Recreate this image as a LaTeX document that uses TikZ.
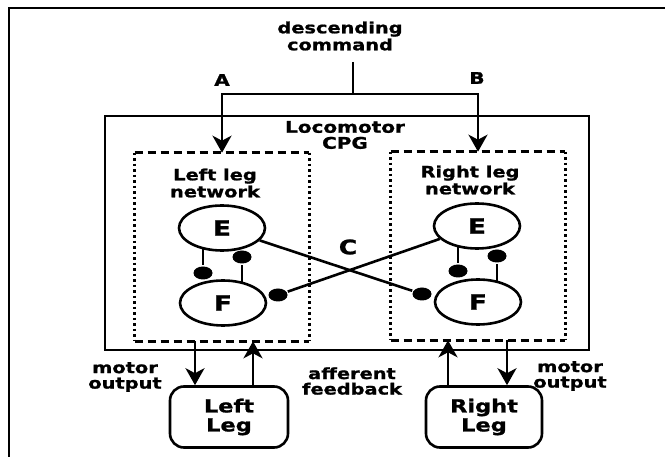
\documentclass[tikz,border=0pt]{standalone}
\usepackage{fontspec}
\setmainfont{DejaVu Sans}[FakeStretch=1.25, BoldFeatures={FakeBold=1.2}]
\usetikzlibrary{positioning, arrows.meta, calc, shapes.geometric, backgrounds}

\begin{document}
\begin{tikzpicture}[x=1pt, y=-1pt, >={Stealth[length=17pt,width=19pt,inset=5pt]}, line width=2.6pt,
  lbl/.style={font=\bfseries\fontsize{15.5}{17}\selectfont, align=center, inner sep=0pt},
  cell/.style={ellipse, draw, fill=white, minimum width=86pt, minimum height=45pt, inner sep=0pt, font=\bfseries\fontsize{21}{21}\selectfont},
  inhdot/.style={ellipse, fill, minimum width=19pt, minimum height=13pt, inner sep=0pt},
  netbox/.style={minimum width=172pt, minimum height=186pt, inner sep=0pt},
  legbox/.style={draw, rounded corners=14pt, minimum height=61pt, inner sep=0pt, align=center, font=\bfseries\fontsize{18}{19}\selectfont},
  dashside/.style={dash pattern=on 8pt off 5pt},
  dotside/.style={dash pattern=on 2.5pt off 3pt}]
\useasboundingbox (0,0) rectangle (665,457);
% page frame (only top and left edges show)
\draw[line width=1.6pt] (9,457) -- (9,8) -- (665,8);
% descending command
\node[lbl] (cmd) at (340,36) {descending\\command};
\coordinate (cmdfoot) at (353,62);
\coordinate (split) at (353,94);
% CPG box
\node[draw, minimum width=484pt, minimum height=234pt] (cpg) at (347,233) {};
\node[lbl, font=\bfseries\fontsize{16}{16}\selectfont] (cpgname) at (345,135) {Locomotor\\CPG};
% leg networks
\node[netbox] (lnet) at (222,247) {};
\node[netbox] (rnet) at (478,246) {};
\foreach \n in {lnet,rnet}{
  \draw[dashside] (\n.north west) -- (\n.north east) (\n.south west) -- (\n.south east);
  \draw[dotside] (\n.north west) -- (\n.south west) (\n.north east) -- (\n.south east);
}
\node[lbl] (lname) at (215,183) {Left leg\\network};
\node[lbl] (rname) at (470,180) {Right leg\\network};
% half-centre cells
\node[cell] (El) at (222,228) {E};
\node[cell] (Fl) at (223,303) {F};
\node[cell] (Er) at (477,226) {E};
\node[cell] (Fr) at (478,302) {F};
% inhibitory synapses
\node[inhdot] (ilEF) at (203,273) {};
\node[inhdot] (ilFE) at (242,257) {};
\node[inhdot] (irEF) at (458,271) {};
\node[inhdot] (irFE) at (497,256) {};
\node[inhdot] (ilx) at (278,295) {};
\node[inhdot] (irx) at (422,294) {};
% crossed connections
\draw (El) -- (irx);
\draw (Er) -- (ilx);
\node[lbl, font=\bfseries\fontsize{20}{20}\selectfont] (C) at (348,247) {C};
% command pathways A and B
\draw (cmdfoot) -- (split);
\draw[->] (split) -| (lnet.north);
\draw[->] (split) -| (rnet.north);
\node[lbl, font=\bfseries\fontsize{16}{16}\selectfont] (A) at (222,80) {A};
\node[lbl, font=\bfseries\fontsize{16}{16}\selectfont] (B) at (477,78) {B};
% legs
\node[legbox, minimum width=118pt] (lleg) at (229,417) {Left\\Leg};
\node[legbox, minimum width=116pt] (rleg) at (484,417) {Right\\Leg};
\coordinate (lmo) at ([xshift=-34pt]lleg.north);
\coordinate (laf) at ([xshift=24pt]lleg.north);
\coordinate (raf) at ([xshift=-36pt]rleg.north);
\coordinate (rmo) at ([xshift=23pt]rleg.north);
\draw[->] (lmo |- lnet.south) -- (lmo);
\draw[->] (laf) -- (laf |- lnet.south);
\draw[->] (raf) -- (raf |- rnet.south);
\draw[->] (rmo |- rnet.south) -- (rmo);
\node[lbl, font=\bfseries\fontsize{15.5}{15.5}\selectfont] (lmotor) at (125,377) {motor\\output};
\node[lbl, font=\bfseries\fontsize{15.5}{15.5}\selectfont] (rmotor) at (570,376) {motor\\output};
\node[lbl, font=\bfseries\fontsize{15.5}{15.5}\selectfont] (aff) at (352,381) {afferent\\feedback};
% stems of the inhibitory synapses, behind the cells
\begin{pgfonlayer}{background}
\draw[line width=2.6pt] (El.center -| ilEF) -- (ilEF);
\draw[line width=2.6pt] (Fl.center -| ilFE) -- (ilFE);
\draw[line width=2.6pt] (Er.center -| irEF) -- (irEF);
\draw[line width=2.6pt] (Fr.center -| irFE) -- (irFE);
\end{pgfonlayer}
\end{tikzpicture}
\end{document}
